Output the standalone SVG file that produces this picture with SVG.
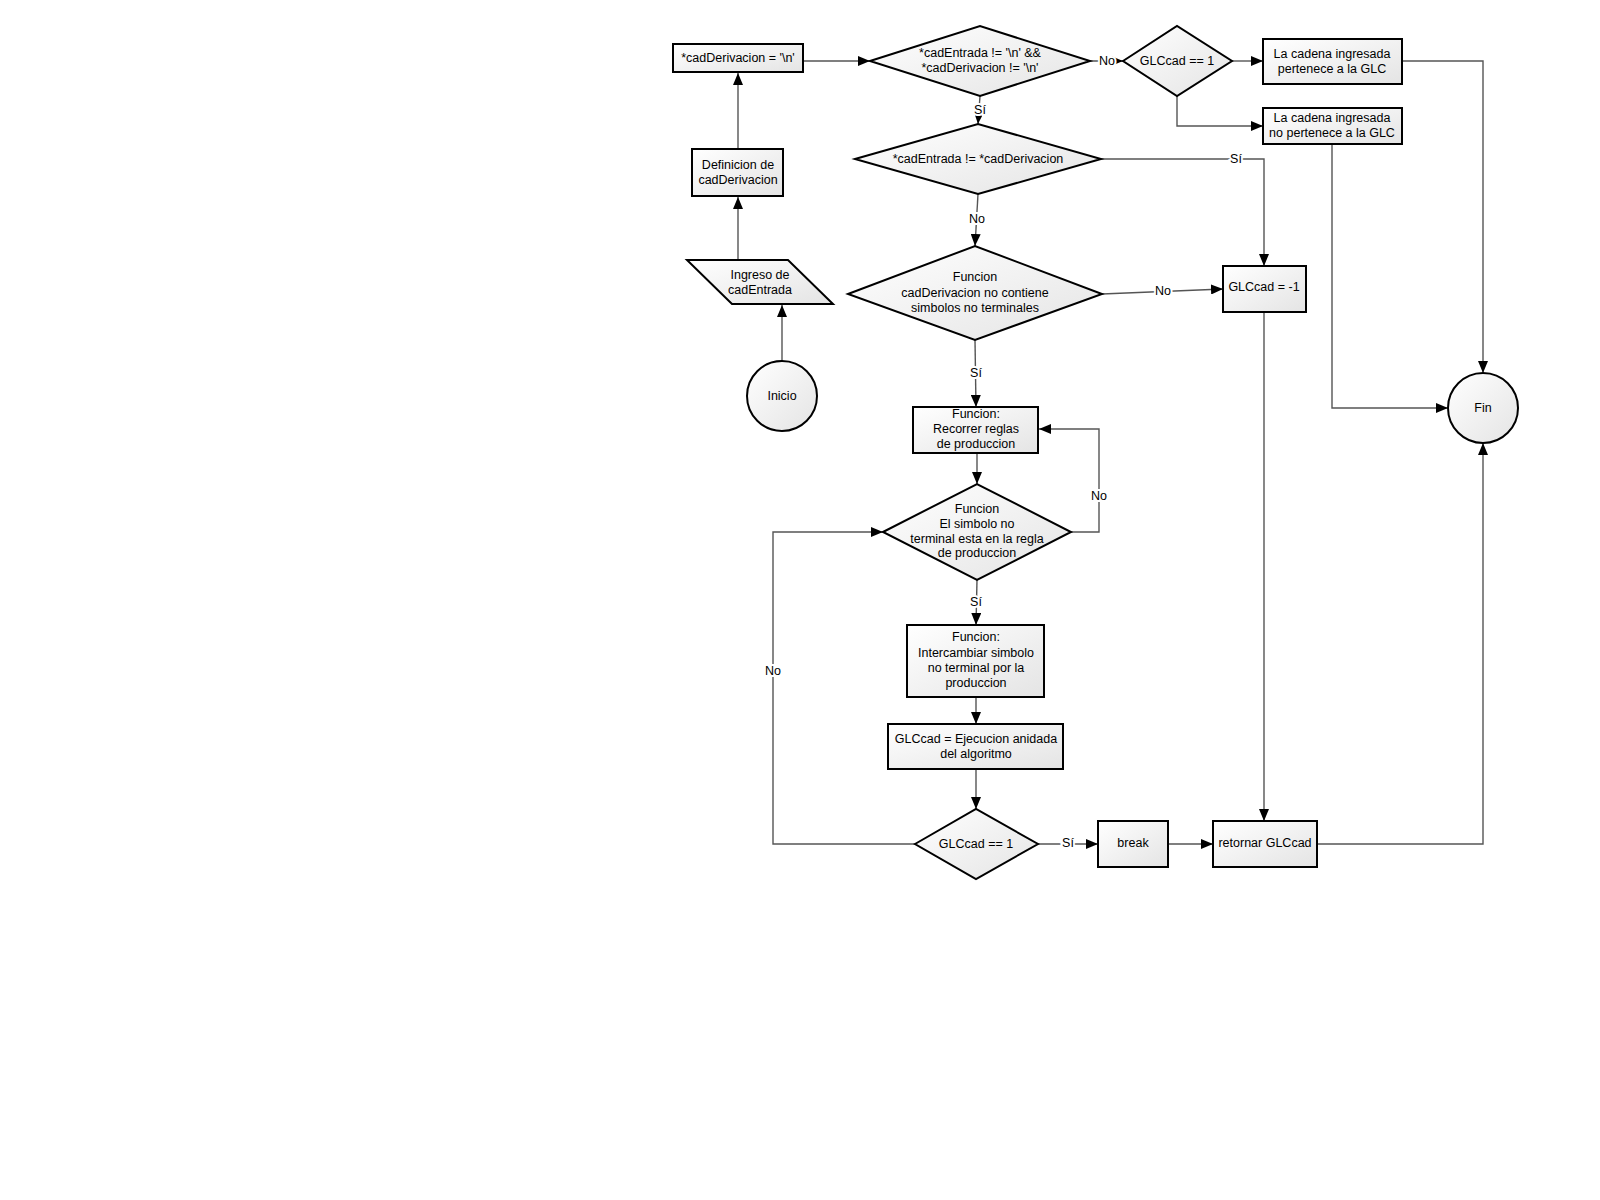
<svg xmlns="http://www.w3.org/2000/svg" width="1600" height="1200" viewBox="0 0 1600 1200">
<defs>
<linearGradient id="g" x1="0" y1="0" x2="1" y2="1">
<stop offset="0" stop-color="#ffffff"/>
<stop offset="1" stop-color="#e4e4e4"/>
</linearGradient>
<marker id="a" viewBox="0 0 12 10" refX="12" refY="5" markerWidth="12" markerHeight="10" markerUnits="userSpaceOnUse" orient="auto">
<path d="M0,0 L12,5 L0,10 Z" fill="#000"/>
</marker>
<style>
.n{fill:url(#g);stroke:#000;stroke-width:2}
.t{font-family:"Liberation Sans",Arial,sans-serif;font-size:12.5px;fill:#000;text-anchor:middle}
.c{fill:none;stroke:#555;stroke-width:1.4;marker-end:url(#a)}
.l{font-family:"Liberation Sans",Arial,sans-serif;font-size:12.5px;fill:#000;text-anchor:middle;paint-order:stroke;stroke:#fff;stroke-width:4}
</style>
</defs>
<rect width="1600" height="1200" fill="#fff"/>
<g id="connectors">
<path class="c" d="M782,361 L782,305"/>
<path class="c" d="M738,260 L738,197"/>
<path class="c" d="M738,149 L738,73"/>
<path class="c" d="M803,61 L870,61"/>
<path class="c" d="M1090,61 L1123,61"/>
<path class="c" d="M980,96 L978,124"/>
<path class="c" d="M1232,61 L1263,61"/>
<path class="c" d="M1177,96 L1177,126 L1263,126"/>
<path class="c" d="M1402,61 L1483,61 L1483,373"/>
<path class="c" d="M1332,144 L1332,408 L1448,408"/>
<path class="c" d="M1101,159 L1264,159 L1264,266"/>
<path class="c" d="M978,194 L975,246"/>
<path class="c" d="M1102,294 L1223,289"/>
<path class="c" d="M975,340 L976,407"/>
<path class="c" d="M977,453 L977,484"/>
<path class="c" d="M1071,532 L1099,532 L1099,429 L1039,429"/>
<path class="c" d="M977,580 L976,625"/>
<path class="c" d="M976,697 L976,724"/>
<path class="c" d="M976,769 L976,809"/>
<path class="c" d="M915,844 L773,844 L773,532 L883,532"/>
<path class="c" d="M1038,844 L1098,844"/>
<path class="c" d="M1168,844 L1213,844"/>
<path class="c" d="M1264,312 L1264,821"/>
<path class="c" d="M1317,844 L1483,844 L1483,443"/>
<text class="l" x="1107" y="65">No</text>
<text class="l" x="980" y="114">Sí</text>
<text class="l" x="1236" y="163">Sí</text>
<text class="l" x="977" y="223">No</text>
<text class="l" x="1163" y="295">No</text>
<text class="l" x="976" y="377">Sí</text>
<text class="l" x="1099" y="500">No</text>
<text class="l" x="976" y="606">Sí</text>
<text class="l" x="773" y="675">No</text>
<text class="l" x="1068" y="847">Sí</text>
</g>
<g id="inicio">
<circle class="n" cx="782" cy="396" r="35"/>
<text class="t" x="782" y="400">Inicio</text>
</g>
<g id="ingreso">
<polygon class="n" points="687,260 788,260 833,304 732,304"/>
<text class="t" x="760" y="279">Ingreso de</text>
<text class="t" x="760" y="294">cadEntrada</text>
</g>
<g id="definicion">
<rect class="n" x="692" y="149" width="91" height="47"/>
<text class="t" x="738" y="169">Definicion de</text>
<text class="t" x="738" y="184">cadDerivacion</text>
</g>
<g id="init">
<rect class="n" x="673" y="44" width="130" height="28"/>
<text class="t" x="738" y="62">*cadDerivacion = '\n'</text>
</g>
<g id="cond1">
<polygon class="n" points="870,61 980,26 1090,61 980,96"/>
<text class="t" x="980" y="57">*cadEntrada != '\n' &amp;&amp;</text>
<text class="t" x="980" y="72">*cadDerivacion != '\n'</text>
</g>
<g id="cond2">
<polygon class="n" points="1123,61 1177,26 1232,61 1177,96"/>
<text class="t" x="1177" y="65">GLCcad == 1</text>
</g>
<g id="pertenece">
<rect class="n" x="1263" y="39" width="139" height="45"/>
<text class="t" x="1332" y="58">La cadena ingresada</text>
<text class="t" x="1332" y="73">pertenece a la GLC</text>
</g>
<g id="nopertenece">
<rect class="n" x="1263" y="108" width="139" height="36"/>
<text class="t" x="1332" y="122">La cadena ingresada</text>
<text class="t" x="1332" y="137">no pertenece a la GLC</text>
</g>
<g id="cond3">
<polygon class="n" points="855,159 978,124 1101,159 978,194"/>
<text class="t" x="978" y="163">*cadEntrada != *cadDerivacion</text>
</g>
<g id="cond4">
<polygon class="n" points="848,294 975,246 1102,294 975,340"/>
<text class="t" x="975" y="281">Funcion</text>
<text class="t" x="975" y="297">cadDerivacion no contiene</text>
<text class="t" x="975" y="312">simbolos no terminales</text>
</g>
<g id="glcm1">
<rect class="n" x="1223" y="266" width="83" height="46"/>
<text class="t" x="1264" y="291">GLCcad = -1</text>
</g>
<g id="fin">
<circle class="n" cx="1483" cy="408" r="35"/>
<text class="t" x="1483" y="412">Fin</text>
</g>
<g id="recorrer">
<rect class="n" x="913" y="407" width="125" height="46"/>
<text class="t" x="976" y="418">Funcion:</text>
<text class="t" x="976" y="433">Recorrer reglas</text>
<text class="t" x="976" y="448">de produccion</text>
</g>
<g id="cond5">
<polygon class="n" points="883,532 977,484 1071,532 977,580"/>
<text class="t" x="977" y="513">Funcion</text>
<text class="t" x="977" y="528">El simbolo no</text>
<text class="t" x="977" y="543">terminal esta en la regla</text>
<text class="t" x="977" y="557">de produccion</text>
</g>
<g id="intercambiar">
<rect class="n" x="907" y="625" width="137" height="72"/>
<text class="t" x="976" y="641">Funcion:</text>
<text class="t" x="976" y="657">Intercambiar simbolo</text>
<text class="t" x="976" y="672">no terminal por la</text>
<text class="t" x="976" y="687">produccion</text>
</g>
<g id="ejecucion">
<rect class="n" x="888" y="724" width="175" height="45"/>
<text class="t" x="976" y="743">GLCcad = Ejecucion anidada</text>
<text class="t" x="976" y="758">del algoritmo</text>
</g>
<g id="cond6">
<polygon class="n" points="915,844 976,809 1038,844 976,879"/>
<text class="t" x="976" y="848">GLCcad == 1</text>
</g>
<g id="break">
<rect class="n" x="1098" y="821" width="70" height="46"/>
<text class="t" x="1133" y="847">break</text>
</g>
<g id="retornar">
<rect class="n" x="1213" y="821" width="104" height="46"/>
<text class="t" x="1265" y="847">retornar GLCcad</text>
</g>
</svg>
